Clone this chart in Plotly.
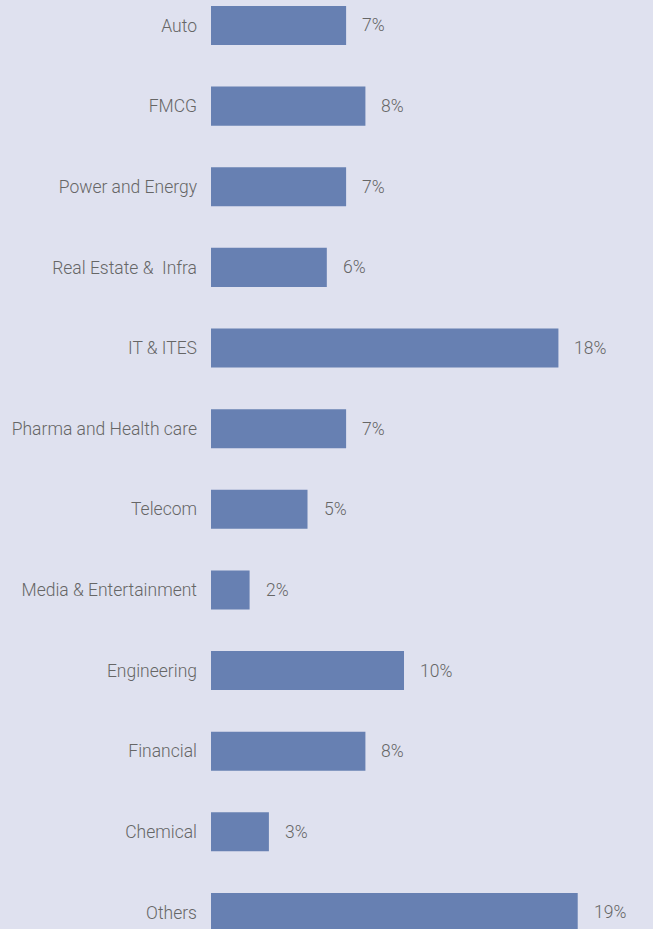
import plotly.graph_objects as go

# Sector split of the portfolio (share in %)
sectors = [
    "Auto", "FMCG", "Power and Energy", "Real Estate &  Infra", "IT & ITES",
    "Pharma and Health care", "Telecom", "Media & Entertainment",
    "Engineering", "Financial", "Chemical", "Others",
]
shares = [7, 8, 7, 6, 18, 7, 5, 2, 10, 8, 3, 19]
value_labels = [f"{v}%" for v in shares]

BG = "#dfe1ef"
BAR = "#6780b2"
TEXT = "#666666"
FONT = "Roboto, Liberation Sans Narrow, sans-serif"
SIZE = 17.5

fig = go.Figure(
    go.Bar(
        x=shares,
        y=sectors,
        orientation="h",
        marker=dict(color=BAR, line=dict(width=0)),
        hoverinfo="skip",
    )
)

for s, v, t in zip(sectors, shares, value_labels):
    fig.add_annotation(
        x=v, y=s, text=t, showarrow=False,
        xanchor="left", yanchor="middle", xshift=14,
        font=dict(family=FONT, size=SIZE, color=TEXT, weight=300),
    )

fig.update_layout(
    width=653, height=929,
    margin=dict(l=211, r=0, t=0, b=0, autoexpand=False),
    paper_bgcolor=BG, plot_bgcolor=BG,
    bargap=0.516,
    showlegend=False,
    font=dict(family=FONT, size=SIZE, color=TEXT),
)
fig.update_xaxes(range=[0, 22.9], visible=False, fixedrange=True)
fig.update_yaxes(
    type="category", categoryorder="array", categoryarray=sectors,
    range=[11.205, -0.316],
    showgrid=False, zeroline=False, showline=False, ticks="",
    ticklabelstandoff=13, automargin=False,
    tickfont=dict(family=FONT, size=SIZE, color=TEXT, weight=300),
    fixedrange=True,
)

fig.write_html("out.html")
